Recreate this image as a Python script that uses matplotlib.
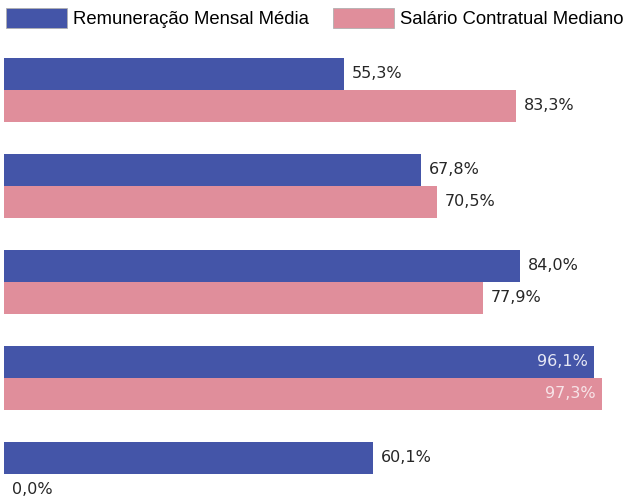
import matplotlib
matplotlib.use("Agg")
import matplotlib.pyplot as plt
from matplotlib.patches import Patch

series_names = ["Remuneração Mensal Média", "Salário Contratual Mediano"]
groups = ["G1", "G2", "G3", "G4", "G5"]
remuneracao = [55.3, 67.8, 84.0, 96.1, 60.1]
salario = [83.3, 70.5, 77.9, 97.3, 0.0]
colors = ["#4455A8", "#E08E9B"]
inside_colors = ["#E6E8F5", "#F7E4E8"]

W, H = 625, 499
fig = plt.figure(figsize=(W / 100, H / 100), dpi=100)
# axes in pixel coordinates: x zero at 4.3 px, 6.14 px per unit
x0, pxu = 4.3, 6.14
ax = fig.add_axes([x0 / W, 0, 100 * pxu / W, 1])
ax.set_xlim(0, 100)
# group center pixel = 90 + 96*i (from top)
ax.set_ylim((H - 90) / 96, -90 / 96)
ax.axis("off")

bh = 32 / 96
for i in range(len(groups)):
    for j, vals in enumerate([remuneracao, salario]):
        v = vals[i]
        yc = i + (-0.5 + j) * bh
        ax.barh(yc, v, height=bh, color=colors[j], edgecolor="none")
        lbl = f"{v:.1f}%".replace(".", ",")
        if v > 90:
            ax.text(v - 1.0, yc, lbl, ha="right", va="center", fontsize=11.5,
                    color=inside_colors[j], family="DejaVu Sans")
        else:
            ax.text(v + 1.3, yc, lbl, ha="left", va="center", fontsize=11.5,
                    color="#262626", family="DejaVu Sans")

handles = [Patch(facecolor=colors[0], edgecolor="#B0B0B0", linewidth=0.6),
           Patch(facecolor=colors[1], edgecolor="#B0B0B0", linewidth=0.6)]
fig.legend(handles, series_names, loc="upper left", bbox_to_anchor=(6 / W, 1 - 8 / H),
           ncol=2, frameon=False, prop={"family": "Liberation Sans", "size": 13.3},
           handlelength=3.3, handleheight=1.25, handletextpad=0.33, columnspacing=1.3,
           borderaxespad=0.0, borderpad=0.0)

fig.savefig("out.png", dpi=100)
